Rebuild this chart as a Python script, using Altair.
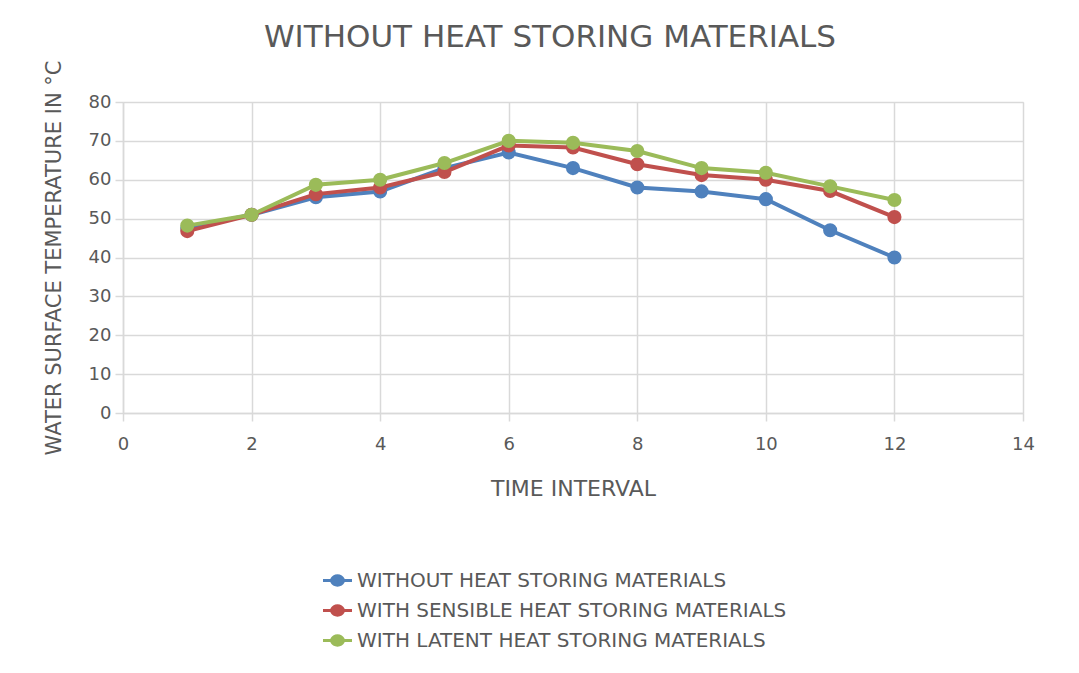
import altair as alt
import pandas as pd

time_interval = [1, 2, 3, 4, 5, 6, 7, 8, 9, 10, 11, 12]
without_heat = [47.6, 51, 55.5, 57, 63, 67, 63, 58, 57, 55, 47, 40]
sensible_heat = [46.8, 51, 56.3, 58, 62, 68.8, 68.3, 64, 61.2, 60, 57.1, 50.4]
latent_heat = [48.2, 51, 58.7, 60, 64.3, 70, 69.5, 67.4, 63, 61.8, 58.3, 54.8]

series_names = [
    "WITHOUT HEAT STORING MATERIALS",
    "WITH SENSIBLE HEAT STORING MATERIALS",
    "WITH LATENT HEAT STORING MATERIALS",
]
series_colors = ["#4F81BD", "#C0504D", "#9BBB59"]

rows = []
for order, (name, vals) in enumerate(zip(series_names, [without_heat, sensible_heat, latent_heat])):
    for t, v in zip(time_interval, vals):
        rows.append({"t": t, "temp": v, "series": name, "order": order})
df = pd.DataFrame(rows)

FONT = "DejaVu Sans"
GRAY = "#595959"
GRID = "#d9d9d9"

color = alt.Color(
    "series:N",
    scale=alt.Scale(domain=series_names, range=series_colors),
    legend=alt.Legend(
        title=None,
        orient="none",
        legendX=200,
        legendY=464,
        direction="vertical",
        symbolType="M -1 -0.11 L -0.5 -0.11 A 0.55 0.55 0 0 1 0.5 -0.11 L 1 -0.11 L 1 0.11 L 0.5 0.11 A 0.55 0.55 0 0 1 -0.5 0.11 L -1 0.11 Z",
        symbolSize=841,
        symbolStrokeWidth=0,
        symbolOpacity=1,
        labelFont=FONT,
        labelFontSize=20,
        labelColor=GRAY,
        labelOffset=5,
        rowPadding=5,
        labelLimit=700,
    ),
)

x = alt.X(
    "t:Q",
    scale=alt.Scale(domain=[0, 14], nice=False, zero=True),
    axis=alt.Axis(
        values=[0, 2, 4, 6, 8, 10, 12, 14],
        title="TIME INTERVAL",
        titleFont=FONT,
        titleFontSize=22,
        titleFontWeight="normal",
        titleColor=GRAY,
        titlePadding=25,
        labelFont=FONT,
        labelFontSize=18,
        labelColor=GRAY,
        labelPadding=14,
        labelFlush=False,
        tickColor=GRID,
        tickSize=8,
        tickWidth=1.5,
        domainColor=GRID,
        domainWidth=1.5,
        gridColor=GRID,
        gridWidth=1.5,
    ),
)
y = alt.Y(
    "temp:Q",
    scale=alt.Scale(domain=[0, 80], nice=False),
    axis=alt.Axis(
        values=[0, 10, 20, 30, 40, 50, 60, 70, 80],
        title="WATER SURFACE TEMPERATURE IN °C",
        titleFont=FONT,
        titleFontSize=21,
        titleFontWeight="normal",
        titleColor=GRAY,
        titlePadding=24,
        labelFont=FONT,
        labelFontSize=18,
        labelColor=GRAY,
        labelPadding=4,
        labelFlush=False,
        tickColor=GRID,
        tickSize=8,
        tickWidth=1.5,
        domainColor=GRID,
        domainWidth=1.5,
        gridColor=GRID,
        gridWidth=1.5,
    ),
)

base = alt.Chart(df)
lines = base.mark_line(strokeWidth=4).encode(
    x=x, y=y, color=color, detail="series:N", order=alt.Order("t:Q")
)
points = base.mark_circle(size=200, opacity=1).encode(
    x=x, y=y, color=alt.Color("series:N", scale=alt.Scale(domain=series_names, range=series_colors), legend=None)
)

layers = []
for name in series_names:
    layers.append(lines.transform_filter(alt.datum.series == name))
    layers.append(points.transform_filter(alt.datum.series == name))

chart = alt.layer(*layers).properties(
    width=900,
    height=311,
    title=alt.TitleParams(
        text="WITHOUT HEAT STORING MATERIALS",
        font=FONT,
        fontSize=31,
        fontWeight="normal",
        color=GRAY,
        anchor="middle",
        frame="group",
        baseline="alphabetic",
        offset=-18,
        dx=-23,
    ),
    autosize=alt.AutoSizeParams(type="none"),
    padding={"left": 115, "top": 94, "right": 40, "bottom": 240},
).configure_view(stroke=None).configure(background="white")

chart.save("out.html", embed_options={"renderer": "svg", "actions": False})
